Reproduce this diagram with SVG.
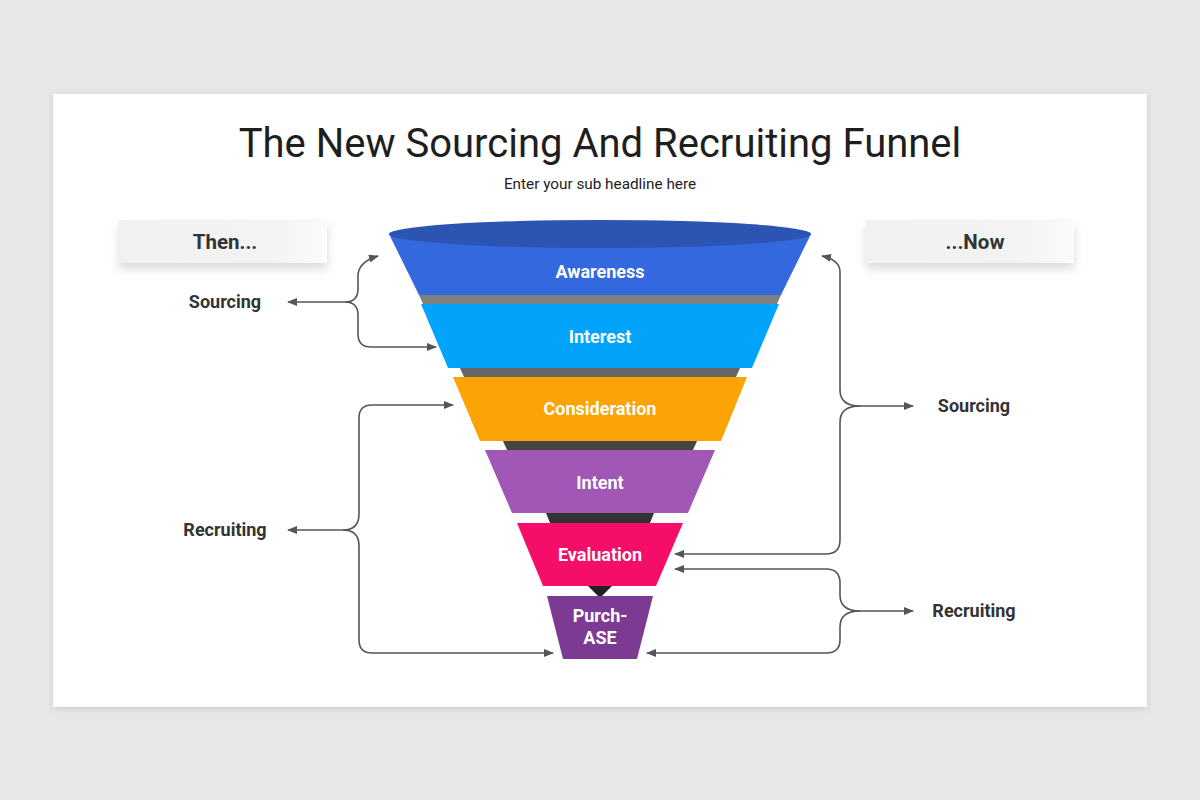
<svg xmlns="http://www.w3.org/2000/svg" width="1200" height="800" viewBox="0 0 1200 800">
<defs>
<filter id="cardShadow" x="-5%" y="-5%" width="110%" height="115%">
<feDropShadow dx="0" dy="2" stdDeviation="3" flood-color="#000" flood-opacity="0.12"/>
</filter>
<filter id="boxShadow" x="-10%" y="-30%" width="120%" height="190%">
<feDropShadow dx="0" dy="6" stdDeviation="5" flood-color="#000" flood-opacity="0.14"/>
</filter>
<linearGradient id="boxGrad" x1="0" y1="0" x2="1" y2="0">
<stop offset="0" stop-color="#f1f1f1"/>
<stop offset="0.75" stop-color="#f3f3f3"/>
<stop offset="1" stop-color="#fbfbfb"/>
</linearGradient>
<marker id="arr" viewBox="0 0 10 8" refX="9" refY="4" markerWidth="10" markerHeight="8" markerUnits="userSpaceOnUse" orient="auto">
<path d="M0,0 L10,4 L0,8 z" fill="#555"/>
</marker>
<style>
.title{font-family:Roboto,"Liberation Sans",sans-serif;font-size:40px;fill:#1e1e1e}
.sub{font-family:Roboto,"Liberation Sans",sans-serif;font-size:15.3px;fill:#222}
.stage{font-family:Roboto,"Liberation Sans",sans-serif;font-size:18px;font-weight:700;fill:#fff;text-anchor:middle}
.side{font-family:Roboto,"Liberation Sans",sans-serif;font-size:18px;font-weight:700;fill:#333;text-anchor:middle}
.hdr{font-family:Roboto,"Liberation Sans",sans-serif;font-size:20.5px;font-weight:700;fill:#333;text-anchor:middle}
.conn{fill:none;stroke:#555;stroke-width:1.6}
</style>
</defs>
<rect x="0" y="0" width="1200" height="800" fill="#e8e6e8"/>
<rect x="53" y="94" width="1094" height="613" fill="#fff" filter="url(#cardShadow)"/>
<text class="title" x="600" y="157" text-anchor="middle">The New Sourcing And Recruiting Funnel</text>
<text class="sub" x="600" y="189" text-anchor="middle">Enter your sub headline here</text>

<g id="then-box">
<rect x="119" y="220" width="208" height="43" fill="url(#boxGrad)" filter="url(#boxShadow)"/>
<text class="hdr" x="225" y="249">Then...</text>
</g>
<g id="now-box">
<rect x="866" y="220" width="208" height="43" fill="url(#boxGrad)" filter="url(#boxShadow)"/>
<text class="hdr" x="975" y="249">...Now</text>
</g>

<g id="funnel-bands">
<polygon points="419,295 781,295 777,304 423,304" fill="#808080"/>
<polygon points="460,368 740,368 736,377 464,377" fill="#666"/>
<polygon points="503,441 697,441 693,450 507,450" fill="#444"/>
<polygon points="546,513 654,513 650,523 550,523" fill="#333"/>
<polygon points="588,586 612,586 602,596 598,596" fill="#222"/>
</g>
<g id="awareness">
<path d="M389,234 L811,234 L781,295 L419,295 Z" fill="#3468de"/>
<ellipse cx="600" cy="234" rx="211" ry="14" fill="#2c54b2"/>
<text class="stage" x="600" y="278">Awareness</text>
</g>
<g id="interest">
<polygon points="421,304 779,304 752,368 448,368" fill="#02a4fb"/>
<text class="stage" x="600" y="343">Interest</text>
</g>
<g id="consideration">
<polygon points="453,377 747,377 721,441 480,441" fill="#fca305"/>
<text class="stage" x="600" y="415">Consideration</text>
</g>
<g id="intent">
<polygon points="485,450 715,450 688,513 512,513" fill="#a057b6"/>
<text class="stage" x="600" y="489">Intent</text>
</g>
<g id="evaluation">
<polygon points="517,523 683,523 656,586 543,586" fill="#f50d6a"/>
<text class="stage" x="600" y="561">Evaluation</text>
</g>
<g id="purchase">
<polygon points="547,596 653,596 637,659 563,659" fill="#7d3a92"/>
<text class="stage" x="600" y="622">Purch-</text>
<text class="stage" x="600" y="644">ASE</text>
</g>

<g id="label-sourcing-left"><text class="side" x="225" y="308">Sourcing</text></g>
<g id="label-recruiting-left"><text class="side" x="225" y="536">Recruiting</text></g>
<g id="label-sourcing-right"><text class="side" x="974" y="412">Sourcing</text></g>
<g id="label-recruiting-right"><text class="side" x="974" y="617">Recruiting</text></g>

<g id="connectors">
<path class="conn" d="M345,302 H288" marker-end="url(#arr)"/>
<path class="conn" d="M345,302 Q358,302 358,289 V276 Q358,262 378,256" marker-end="url(#arr)"/>
<path class="conn" d="M345,302 Q358,302 358,315 V334 Q358,347 371,347 H436" marker-end="url(#arr)"/>

<path class="conn" d="M343,530 H288" marker-end="url(#arr)"/>
<path class="conn" d="M343,530 Q359,530 359,514 V418 Q359,405 372,405 H453" marker-end="url(#arr)"/>
<path class="conn" d="M343,530 Q359,530 359,546 V640 Q359,653 372,653 H553" marker-end="url(#arr)"/>

<path class="conn" d="M860,406 H913" marker-end="url(#arr)"/>
<path class="conn" d="M860,406 Q840,406 840,390 V272 Q840,260 822,256" marker-end="url(#arr)"/>
<path class="conn" d="M860,406 Q840,406 840,422 V540 Q840,554 826,554 H675" marker-end="url(#arr)"/>

<path class="conn" d="M860,611 H913" marker-end="url(#arr)"/>
<path class="conn" d="M860,611 Q840,611 840,595 V583 Q840,569 826,569 H675" marker-end="url(#arr)"/>
<path class="conn" d="M860,611 Q840,611 840,627 V640 Q840,653 826,653 H647" marker-end="url(#arr)"/>
</g>
</svg>
